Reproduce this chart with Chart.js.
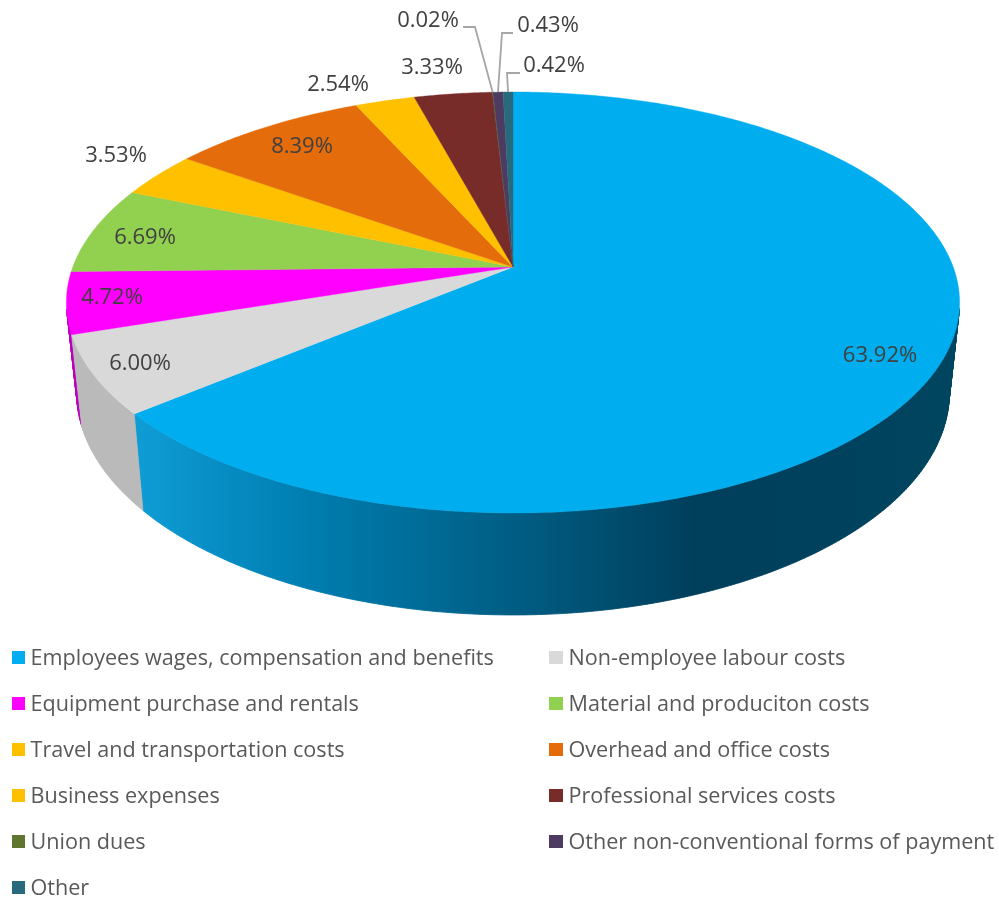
<!DOCTYPE html>
<html><head><meta charset="utf-8">
<style>html,body{margin:0;padding:0;background:#fff}canvas{display:block}</style>
<script src="https://cdn.jsdelivr.net/npm/chart.js@4"></script>
</head><body><canvas id="c" width="999" height="898"></canvas>
<script>
const categories = ["Employees wages, compensation and benefits","Non-employee labour costs","Equipment purchase and rentals","Material and produciton costs","Travel and transportation costs","Overhead and office costs","Business expenses","Professional services costs","Union dues","Other non-conventional forms of payment","Other"];
const shares = [63.92,6.00,4.72,6.69,3.53,8.39,2.54,3.33,0.02,0.43,0.42];
const topColors = ["#00ADEF","#D9D9D9","#FF00FF","#92D050","#FFC000","#E46C0A","#FFC000","#772C2A","#5F7530","#4D3B62","#276A7C"];
const sideColors = [null,"#BABABA","#BD00BD","#6C9A3B","#BD8E00","#A95007","#BD8E00","#581F1E","#46571F","#392C49","#1D4F5C"];
const blueSideStops = [[0,"#0F9DD6"],[0.2,"#007FB2"],[0.47,"#005C82"],[0.68,"#003F5C"],[1,"#00455F"]];
// text layout: centre of each percentage label, legend rows
const labelCentres = [[880,356],[140,364],[112,298],[145,238],[116,156],[302,147],[338,85],[432,68],[428,21],[548,26],[554,66]];
const leaders = {8:[[463,27],[475,27]],9:[[513,33],[502,33]],10:[[520,73],[507,73]]};
const cam = {cx:513, cy:267, r:440.2, k:204.5, p:0.1686, shrink:0.977};
const FONT = '"Open Sans", sans-serif';

function project(a){
  const u=Math.cos(a), v=Math.sin(a), w=1-cam.p*v;
  return {x:cam.cx+cam.r*u/w, y:cam.cy+cam.k*v/w};
}
function lower(pt){
  const d = 92+0.0562*(pt.y-335);
  return {x:cam.cx+(pt.x-cam.cx)*cam.shrink, y:pt.y+d};
}
function rim(a0,a1){
  const n=Math.max(2,Math.ceil((a1-a0)/0.01)), out=[];
  for(let i=0;i<=n;i++) out.push(project(a0+(a1-a0)*i/n));
  return out;
}
const pie3d = {
  id:'pie3d',
  beforeDatasetsDraw(chart){
    const ctx=chart.ctx, arcs=chart.getDatasetMeta(0).data;
    ctx.save();
    const grad=ctx.createLinearGradient(134,0,958,0);
    blueSideStops.forEach(s=>grad.addColorStop(s[0],s[1]));
    // side wall: front-facing part only, furthest slices first
    const mid=a=>Math.sin((a.startAngle+a.endAngle)/2);
    arcs.map((a,i)=>i).sort((i,j)=>mid(arcs[i])-mid(arcs[j])).forEach(i=>{
      const pts=rim(arcs[i].startAngle,arcs[i].endAngle);
      ctx.fillStyle=ctx.strokeStyle=(i===0?grad:sideColors[i]);
      ctx.lineWidth=0.8;ctx.lineJoin='round';
      ctx.beginPath();
      for(let j=0;j<pts.length-1;j++){
        const a=pts[j],b=pts[j+1],c=lower(b),d=lower(a);
        if(a.y<308||b.y<308) continue;
        ctx.moveTo(a.x,a.y);ctx.lineTo(b.x,b.y);ctx.lineTo(c.x,c.y);ctx.lineTo(d.x,d.y);ctx.closePath();
      }
      ctx.stroke();ctx.fill();
    });
    // top face
    arcs.forEach((arc,i)=>{
      const pts=rim(arc.startAngle,arc.endAngle);
      ctx.beginPath();
      ctx.moveTo(cam.cx,cam.cy);
      pts.forEach(p=>ctx.lineTo(p.x,p.y));
      ctx.closePath();
      ctx.fillStyle=topColors[i];
      ctx.strokeStyle=topColors[i];
      ctx.lineWidth=0.4;
      ctx.fill();ctx.stroke();
    });
    ctx.restore();
    return false;
  },
  afterDraw(chart){
    const ctx=chart.ctx, arcs=chart.getDatasetMeta(0).data, vals=chart.data.datasets[0].data;
    ctx.save();
    // leader lines
    ctx.strokeStyle="#A6A6A6";ctx.lineWidth=1.8;
    Object.keys(leaders).forEach(k=>{
      const arc=arcs[k], end=project((arc.startAngle+arc.endAngle)/2);
      ctx.beginPath();
      leaders[k].forEach((p,j)=>j?ctx.lineTo(p[0],p[1]):ctx.moveTo(p[0],p[1]));
      ctx.lineTo(end.x,end.y);
      ctx.stroke();
    });
    // percentage labels
    ctx.font='22px '+FONT;ctx.fillStyle="#404040";ctx.textAlign='center';ctx.textBaseline='middle';
    vals.forEach((v,i)=>ctx.fillText(v.toFixed(2)+'%',labelCentres[i][0],labelCentres[i][1]));
    // legend
    ctx.font='21.6px '+FONT;ctx.textAlign='left';
    categories.forEach((c,i)=>{
      const col=i%2,row=(i-col)/2,y=657.5+row*46;
      ctx.fillStyle=topColors[i];
      ctx.fillRect(col?549:12,y-6.5,col?14:13,13);
      ctx.fillStyle="#595959";
      ctx.fillText(c,col?568.5:30.5,y+1);
    });
    ctx.restore();
  }
};
new Chart(document.getElementById('c'),{
  type:'pie',
  data:{labels:categories,datasets:[{data:shares,backgroundColor:topColors,borderWidth:0}]},
  options:{responsive:false,animation:false,rotation:0,
    plugins:{legend:{display:false},tooltip:{enabled:false}}},
  plugins:[pie3d]
});
</script></body></html>
